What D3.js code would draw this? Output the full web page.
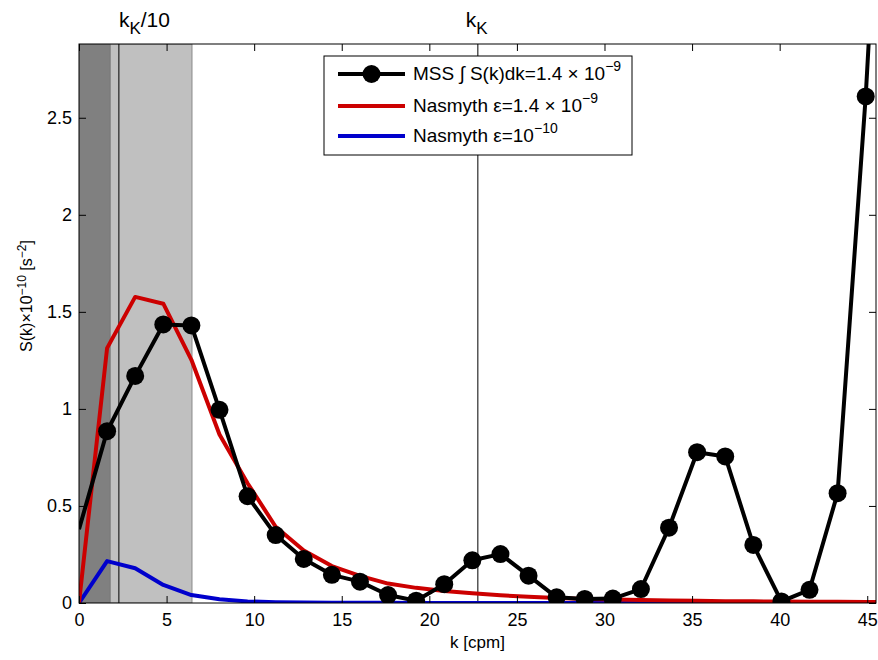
<!DOCTYPE html>
<html>
<head>
<meta charset="utf-8">
<script src="https://cdn.jsdelivr.net/npm/d3@7"></script>
<style>
  body { margin: 0; background: #fff; }
  text { font-family: "Liberation Sans", Arial, sans-serif; }
</style>
</head>
<body>
<div id="chart"></div>
<script>
// wavenumber spacing of the spectrum (cpm)
var dk = 1.604;
var kKol = 22.77;            // Kolmogorov wavenumber k_K
var kLow = 1.77, kHigh = 6.45; // shaded bands

// MSS spectrum (x 1e-10)
var mss = [0.38, 0.885, 1.17, 1.435, 1.43, 0.995, 0.55, 0.35, 0.227, 0.145, 0.11, 0.041,
           0.012, 0.097, 0.22, 0.252, 0.141, 0.029, 0.021, 0.023, 0.072, 0.388, 0.777, 0.755,
           0.299, 0.008, 0.068, 0.566, 2.61, 5.2];
// Nasmyth eps = 1.4e-9
var nasHigh = [0, 1.313, 1.577, 1.542, 1.253, 0.868, 0.617, 0.393, 0.27, 0.19, 0.14, 0.10,
               0.078, 0.062, 0.05, 0.04, 0.032, 0.026, 0.021, 0.018, 0.015, 0.013, 0.011, 0.0095,
               0.0085, 0.0075, 0.0068, 0.006, 0.0055, 0.005];
// Nasmyth eps = 1e-10
var nasLow = [0, 0.216, 0.179, 0.093, 0.041, 0.019, 0.008, 0.004, 0.0025, 0.0015, 0.001, 0.0008,
              0.0006, 0.0005, 0.0004, 0.0003, 0.0003, 0.0002, 0.0002, 0.0002, 0.0001, 0.0001, 0.0001, 0.0001,
              0.0001, 0.0001, 0.0001, 0.0001, 0.0001, 0.0001];

var xTicks = [0, 5, 10, 15, 20, 25, 30, 35, 40, 45];
var yTicks = [0, 0.5, 1, 1.5, 2, 2.5];

var margin = {top: 44, right: 2, bottom: 57, left: 79},
    width = 878 - margin.left - margin.right,
    height = 660 - margin.top - margin.bottom;

var svg = d3.select("#chart").append("svg")
    .attr("width", 878)
    .attr("height", 660)
  .append("g")
    .attr("transform", "translate(" + margin.left + "," + margin.top + ")");

var x = d3.scaleLinear().domain([0, 45.5]).range([0, width]);
var y = d3.scaleLinear().domain([0, 2.88]).range([height, 0]);

svg.append("defs").append("clipPath").attr("id", "clip")
  .append("rect").attr("width", width).attr("height", height);

var plot = svg.append("g").attr("clip-path", "url(#clip)");

// shaded bands
plot.append("rect")
    .attr("x", x(kLow)).attr("y", 0)
    .attr("width", x(kHigh) - x(kLow)).attr("height", height)
    .attr("fill", "#c0c0c0").attr("stroke", "#8a8a8a").attr("stroke-width", 1);
plot.append("rect")
    .attr("x", x(0)).attr("y", 0)
    .attr("width", x(kLow) - x(0)).attr("height", height)
    .attr("fill", "#808080").attr("stroke", "#777").attr("stroke-width", 1);

// k_K and k_K/10 lines
[kKol / 10, kKol].forEach(function (k) {
  plot.append("line")
      .attr("x1", x(k)).attr("x2", x(k))
      .attr("y1", 0).attr("y2", height)
      .attr("stroke", "#000").attr("stroke-width", 1);
});

var line = d3.line()
    .x(function (d, i) { return x(i * dk); })
    .y(function (d) { return y(d); });

plot.append("path").datum(nasLow)
    .attr("d", line).attr("fill", "none")
    .attr("stroke", "#0000cc").attr("stroke-width", 4).attr("stroke-linejoin", "round");
plot.append("path").datum(nasHigh)
    .attr("d", line).attr("fill", "none")
    .attr("stroke", "#cc0000").attr("stroke-width", 4).attr("stroke-linejoin", "round");
plot.append("path").datum(mss)
    .attr("d", line).attr("fill", "none")
    .attr("stroke", "#000").attr("stroke-width", 4).attr("stroke-linejoin", "round");

plot.selectAll("circle.mss")
    .data(mss)
    .enter()
    .filter(function (d, i) { return i > 0; })
    .append("circle")
    .attr("class", "mss")
    .attr("cx", function (d, i) { return x((i + 1) * dk); })
    .attr("cy", function (d) { return y(d); })
    .attr("r", 9)
    .attr("fill", "#000");

// axes, matlab style: ticks inside on all four sides
var tickLen = 7;
var fmt = d3.format("~g");
svg.append("g")
    .attr("transform", "translate(0," + height + ")")
    .call(d3.axisBottom(x).tickValues(xTicks).tickFormat(fmt).tickSizeInner(-tickLen).tickSizeOuter(0).tickPadding(10));
svg.append("g")
    .call(d3.axisLeft(y).tickValues(yTicks).tickFormat(fmt).tickSizeInner(-tickLen).tickSizeOuter(0).tickPadding(7));
svg.append("g")
    .call(d3.axisTop(x).tickValues(xTicks).tickSizeInner(-tickLen).tickSizeOuter(0).tickFormat(""));
svg.append("g")
    .attr("transform", "translate(" + width + ",0)")
    .call(d3.axisRight(y).tickValues(yTicks).tickSizeInner(-tickLen).tickSizeOuter(0).tickFormat(""));

svg.selectAll(".domain").remove();
svg.selectAll(".tick line").attr("stroke", "#000");
svg.selectAll(".tick text").attr("font-size", 18).attr("fill", "#000")
    .attr("font-family", "Liberation Sans, Arial, sans-serif");

svg.append("rect")
    .attr("width", width).attr("height", height)
    .attr("fill", "none").attr("stroke", "#000").attr("stroke-width", 1);

// top labels
var t1 = svg.append("text").attr("x", x(kKol / 10)).attr("y", -17).attr("font-size", 21);
t1.append("tspan").text("k");
t1.append("tspan").attr("dy", 7).attr("font-size", 17).text("K");
t1.append("tspan").attr("dy", -7).text("/10");

var t2 = svg.append("text").attr("x", x(kKol) - 12).attr("y", -17).attr("font-size", 21);
t2.append("tspan").text("k");
t2.append("tspan").attr("dy", 7).attr("font-size", 17).text("K");

// axis labels
svg.append("text")
    .attr("x", width / 2).attr("y", height + 45)
    .attr("text-anchor", "middle").attr("font-size", 17)
    .text("k [cpm]");

var yl = svg.append("text")
    .attr("transform", "translate(-47,252) rotate(-90)")
    .attr("text-anchor", "middle").attr("font-size", 16);
yl.append("tspan").text("S(k)\u00d710");
yl.append("tspan").attr("dy", -6).attr("font-size", 12).text("\u221210");
yl.append("tspan").attr("dy", 6).text(" [s");
yl.append("tspan").attr("dy", -6).attr("font-size", 12).text("\u22122");
yl.append("tspan").attr("dy", 6).text("]");

// legend
var lg = svg.append("g").attr("transform", "translate(" + (324 - margin.left) + "," + (56 - margin.top) + ")");
lg.append("rect").attr("width", 308).attr("height", 99)
    .attr("fill", "#fff").attr("stroke", "#000").attr("stroke-width", 1);

var rows = [
  {color: "#000", marker: true, y: 18, parts: [["MSS \u222b S(k)dk=1.4 \u00d7 10", 0], ["\u22129", 1]]},
  {color: "#cc0000", marker: false, y: 50, parts: [["Nasmyth \u03b5=1.4 \u00d7 10", 0], ["\u22129", 1]]},
  {color: "#0000cc", marker: false, y: 80, parts: [["Nasmyth \u03b5=10", 0], ["\u221210", 1]]}
];
rows.forEach(function (r) {
  lg.append("line").attr("x1", 14).attr("x2", 81).attr("y1", r.y).attr("y2", r.y)
      .attr("stroke", r.color).attr("stroke-width", 4);
  if (r.marker) lg.append("circle").attr("cx", 47.5).attr("cy", r.y).attr("r", 9).attr("fill", "#000");
  var t = lg.append("text").attr("x", 89).attr("y", r.y + 6).attr("font-size", 19);
  r.parts.forEach(function (p) {
    if (p[1]) t.append("tspan").attr("dy", -9).attr("font-size", 14).text(p[0]);
    else t.append("tspan").text(p[0]);
  });
});
</script>
</body>
</html>
